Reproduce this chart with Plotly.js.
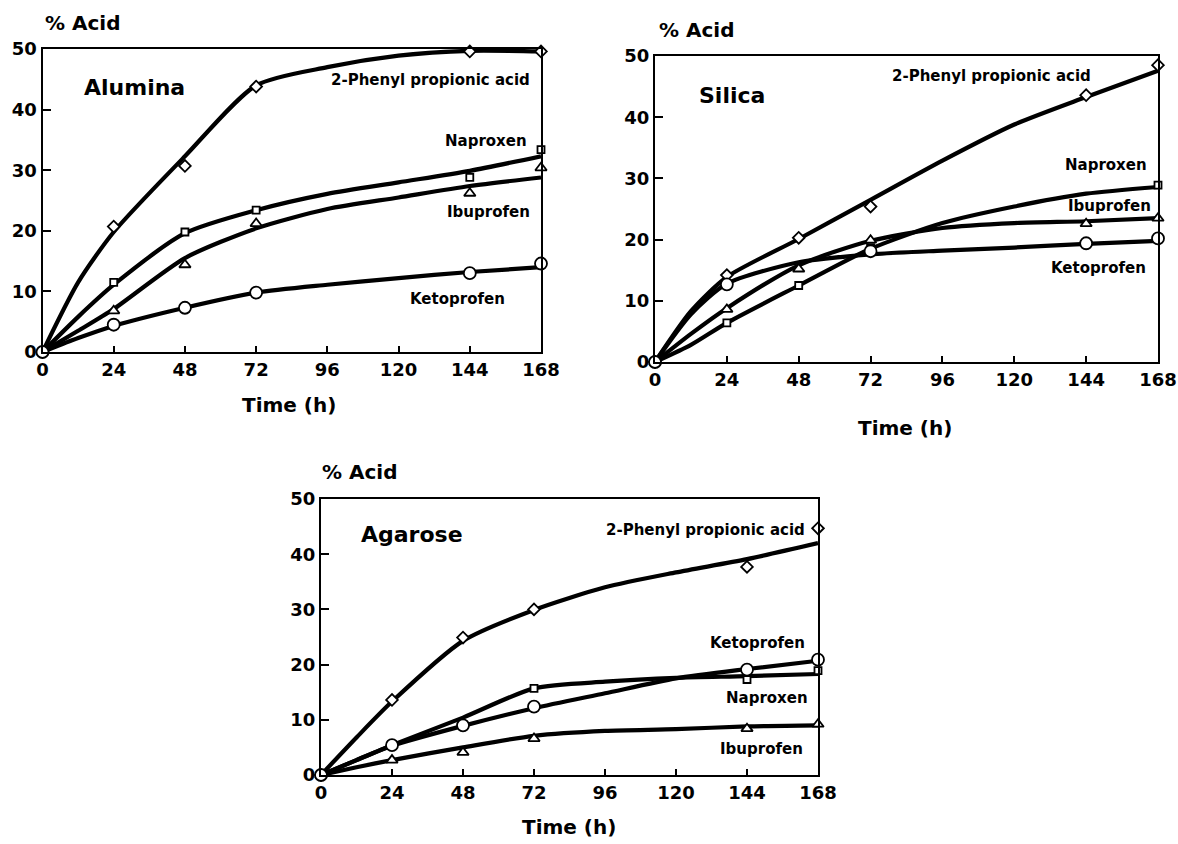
<!DOCTYPE html>
<html>
<head>
<meta charset="utf-8">
<script src="https://cdn.plot.ly/plotly-3.0.1.min.js"></script>
<style>html,body{margin:0;padding:0;background:#fff;}#chart{width:1178px;height:844px;}</style>
</head>
<body>
<div id="chart"></div>
<script>
// ---------- DATA ----------
const hours = [0, 24, 48, 72, 144, 168];
const curveHours = [0, 12, 24, 48, 72, 96, 120, 144, 168];
const xTicks = [0, 24, 48, 72, 96, 120, 144, 168];
const yTicks = [0, 10, 20, 30, 40, 50];
const seriesNames = ["2-Phenyl propionic acid", "Naproxen", "Ibuprofen", "Ketoprofen"];
const panelNames = ["Alumina", "Silica", "Agarose"];

// Alumina
const aluPhenyl = [0, 20.7, 30.7, 43.8, 49.6, 49.6];
const aluPhenylFit = [0, 11.5, 19.8, 32.3, 44.0, 47.0, 48.9, 49.7, 49.6];
const aluNaproxen = [0, 11.5, 19.8, 23.4, 28.8, 33.4];
const aluNaproxenFit = [0, 5.8, 11.1, 19.6, 23.4, 26.1, 28.0, 29.9, 32.3];
const aluIbuprofen = [0, 6.8, 14.4, 21.2, 26.2, 30.4];
const aluIbuprofenFit = [0, 3.5, 7.1, 15.5, 20.4, 23.6, 25.5, 27.4, 28.8];
const aluKetoprofen = [0, 4.5, 7.3, 9.8, 13.0, 14.6];
const aluKetoprofenFit = [0, 2.3, 4.3, 7.3, 9.8, 11.1, 12.2, 13.2, 14.0];

// Silica
const silPhenyl = [0, 14.2, 20.3, 25.4, 43.6, 48.5];
const silPhenylFit = [0, 8.3, 13.9, 20.1, 26.5, 32.9, 38.8, 43.3, 47.6];
const silNaproxen = [0, 6.4, 12.5, 18.7, null, 28.9];
const silNaproxenFit = [0, 2.8, 6.4, 12.5, 18.5, 22.7, 25.4, 27.5, 28.6];
const silIbuprofen = [0, 8.6, 15.2, 19.9, 22.6, 23.5];
const silIbuprofenFit = [0, 4.6, 8.8, 15.8, 19.8, 21.9, 22.7, 23.0, 23.5];
const silKetoprofen = [0, 12.7, null, 18.1, 19.4, 20.2];
const silKetoprofenFit = [0, 7.8, 12.8, 16.3, 17.6, 18.2, 18.7, 19.3, 19.8];

// Agarose
const agaPhenyl = [0, 13.6, 24.9, 30.0, 37.7, 44.7];
const agaPhenylFit = [0, 6.8, 13.3, 24.3, 29.9, 34.0, 36.7, 39.1, 42.0];
const agaNaproxen = [0, 5.4, null, 15.7, 17.3, 18.9];
const agaNaproxenFit = [0, 2.7, 5.4, 10.4, 15.7, 16.9, 17.6, 17.9, 18.3];
const agaIbuprofen = [0, 2.7, 4.1, 6.6, 8.4, 9.2];
const agaIbuprofenFit = [0, 1.4, 2.7, 5.0, 7.1, 8.0, 8.3, 8.8, 9.0];
const agaKetoprofen = [0, 5.4, 9.0, 12.4, 19.1, 20.9];
const agaKetoprofenFit = [0, 2.7, 5.3, 8.9, 12.1, 14.8, 17.5, 19.2, 20.7];

// ---------- STYLE ----------
const FONT = "DejaVu Sans, Liberation Sans, Arial, sans-serif";
const symbols = {"2-Phenyl propionic acid": ["diamond", 9], "Naproxen": ["square", 7], "Ibuprofen": ["triangle-up", 10], "Ketoprofen": ["circle", 12]};

const panels = [
  {ax: "", data: {"2-Phenyl propionic acid": [aluPhenyl, aluPhenylFit], "Naproxen": [aluNaproxen, aluNaproxenFit], "Ibuprofen": [aluIbuprofen, aluIbuprofenFit], "Ketoprofen": [aluKetoprofen, aluKetoprofenFit]}},
  {ax: "2", data: {"2-Phenyl propionic acid": [silPhenyl, silPhenylFit], "Naproxen": [silNaproxen, silNaproxenFit], "Ibuprofen": [silIbuprofen, silIbuprofenFit], "Ketoprofen": [silKetoprofen, silKetoprofenFit]}},
  {ax: "3", data: {"2-Phenyl propionic acid": [agaPhenyl, agaPhenylFit], "Naproxen": [agaNaproxen, agaNaproxenFit], "Ibuprofen": [agaIbuprofen, agaIbuprofenFit], "Ketoprofen": [agaKetoprofen, agaKetoprofenFit]}}
];

const traces = [];
panels.forEach(p => {
  seriesNames.forEach(s => {
    traces.push({x: curveHours, y: p.data[s][1], xaxis: "x" + p.ax, yaxis: "y" + p.ax, mode: "lines",
      line: {color: "#000", width: 4.2, shape: "spline", smoothing: 0.7}, showlegend: false, hoverinfo: "skip", cliponaxis: false});
  });
  seriesNames.forEach(s => {
    traces.push({x: hours, y: p.data[s][0], xaxis: "x" + p.ax, yaxis: "y" + p.ax, mode: "markers", name: s,
      marker: {symbol: symbols[s][0], size: symbols[s][1], color: "#fff", line: {color: "#000", width: 1.8}},
      showlegend: false, cliponaxis: false});
  });
});

function xa(domain, anchor) {
  return {domain: domain, anchor: anchor, range: [0, 168], tickvals: xTicks, ticktext: xTicks.map(String),
    ticks: "inside", ticklen: 6, tickwidth: 2, tickcolor: "#000", showline: true, linecolor: "#000", linewidth: 2,
    mirror: true, showgrid: false, zeroline: false, tickfont: {family: FONT, size: 18, color: "#000", weight: "bold"}};
}
function ya(domain, anchor) {
  return {domain: domain, anchor: anchor, range: [0, 50], tickvals: yTicks, ticktext: yTicks.map(String),
    ticks: "inside", ticklen: 8, tickwidth: 2, tickcolor: "#000", showline: true, linecolor: "#000", linewidth: 2,
    mirror: true, showgrid: false, zeroline: false, tickfont: {family: FONT, size: 18, color: "#000", weight: "bold"}};
}

const lf = {family: FONT, size: 15, color: "#000", weight: "bold"};
const tf = {family: FONT, size: 20, color: "#000", weight: "bold"};
const pf = {family: FONT, size: 22, color: "#000", weight: "bold"};

function lab(ax, x, y, text, font, xanchor) {
  return {xref: "x" + ax, yref: "y" + ax, x: x, y: y, text: text, showarrow: false, font: font, xanchor: xanchor || "right", yanchor: "middle"};
}
function paperLab(x, y, text, font, xanchor) {
  return {xref: "paper", yref: "paper", x: x, y: y, text: text, showarrow: false, font: font, xanchor: xanchor, yanchor: "middle"};
}

const annotations = [
  // Alumina
  lab("", 13.3, 43.6, panelNames[0], pf, "left"),
  lab("", 165, 44.9, seriesNames[0], lf),
  lab("", 164, 34.8, seriesNames[1], lf),
  lab("", 165, 23.1, seriesNames[2], lf),
  lab("", 156.5, 8.7, seriesNames[3], lf),
  paperLab(0.0365, 1 - 23 / 844, "% Acid", tf, "left"),
  paperLab(289 / 1178, 1 - 405 / 844, "Time (h)", tf, "center"),
  // Silica
  lab("2", 14, 43.5, panelNames[1], pf, "left"),
  lab("2", 146.3, 46.7, seriesNames[0], lf),
  lab("2", 165, 32.2, seriesNames[1], lf),
  lab("2", 166.3, 25.5, seriesNames[2], lf),
  lab("2", 164.7, 15.4, seriesNames[3], lf),
  paperLab(657 / 1178, 1 - 30 / 844, "% Acid", tf, "left"),
  paperLab(905 / 1178, 1 - 428 / 844, "Time (h)", tf, "center"),
  // Agarose
  lab("3", 12.8, 43.5, panelNames[2], pf, "left"),
  lab("3", 164.3, 44.4, seriesNames[0], lf),
  lab("3", 164.3, 23.9, seriesNames[3], lf),
  lab("3", 165.3, 13.9, seriesNames[1], lf),
  lab("3", 163.6, 4.7, seriesNames[2], lf),
  paperLab(320 / 1178, 1 - 472 / 844, "% Acid", tf, "left"),
  paperLab(569 / 1178, 1 - 827 / 844, "Time (h)", tf, "center")
];

const layout = {
  width: 1178, height: 844, margin: {l: 0, r: 0, t: 0, b: 0},
  paper_bgcolor: "#fff", plot_bgcolor: "rgba(0,0,0,0)", showlegend: false,
  xaxis: xa([42.5 / 1178, 541 / 1178], "y"),
  yaxis: ya([1 - 352 / 844, 1 - 49 / 844], "x"),
  xaxis2: xa([655 / 1178, 1158 / 1178], "y2"),
  yaxis2: ya([1 - 362 / 844, 1 - 56 / 844], "x2"),
  xaxis3: xa([321 / 1178, 818 / 1178], "y3"),
  yaxis3: ya([1 - 775 / 844, 1 - 499 / 844], "x3"),
  annotations: annotations
};

Plotly.newPlot("chart", traces, layout, {displayModeBar: false, staticPlot: true});
</script>
</body>
</html>
